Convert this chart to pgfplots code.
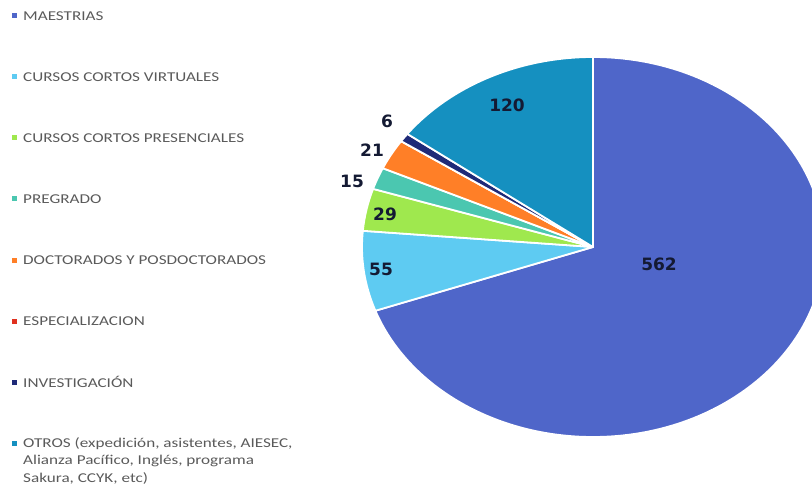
\documentclass[border=0pt]{standalone}
\usepackage{pgfplots}
\pgfplotsset{compat=1.18}
\usepackage{pgfplotstable}
\usepackage{fontspec}
\setmainfont{Carlito}
\newfontfamily\legfont[FakeStretch=1.27]{Carlito}
\newfontfamily\numfont{DejaVu Sans}

\definecolor{slice0}{HTML}{4F66C9}
\definecolor{slice1}{HTML}{5ECBF2}
\definecolor{slice2}{HTML}{9FE84E}
\definecolor{slice3}{HTML}{4BC7B0}
\definecolor{slice4}{HTML}{FF7F27}
\definecolor{slice5}{HTML}{E0301E}
\definecolor{slice6}{HTML}{1F2A78}
\definecolor{slice7}{HTML}{1590C0}
\definecolor{legtext}{HTML}{5A5A5A}
\definecolor{numtext}{HTML}{141A33}

% value, label position (px), legend row y (px)
\pgfplotstableread[col sep=comma]{
value,lx,ly,legy
562,659,264,16
55,381,269,77
29,385,214,138
15,352,181,199
21,372,150,260
0,0,0,321
6,387,121,382
120,507,105,443
}\datatable

\begin{document}
\begin{tikzpicture}
% total and cumulative angles (clockwise from the top)
\def\total{0}
\pgfplotsforeachungrouped \i in {0,...,7}{%
  \pgfplotstablegetelem{\i}{value}\of\datatable
  \pgfmathsetmacro\total{\total+\pgfplotsretval}%
  \xdef\total{\total}%
}
\def\cum{90}
\pgfplotsforeachungrouped \i in {0,...,7}{%
  \pgfplotstablegetelem{\i}{value}\of\datatable
  \edef\v{\pgfplotsretval}%
  \pgfmathtruncatemacro\vi{\v}%
  \expandafter\xdef\csname val\i\endcsname{\ifnum\vi>0 \vi\fi}%
  \pgfmathsetmacro\sweep{\v/\total*360}%
  \expandafter\xdef\csname sa\i\endcsname{\cum}%
  \pgfmathsetmacro\cum{\cum-\sweep}%
  \xdef\cum{\cum}%
  \expandafter\xdef\csname ea\i\endcsname{\cum}%
  \pgfplotstablegetelem{\i}{lx}\of\datatable
  \expandafter\xdef\csname lx\i\endcsname{\pgfplotsretval}%
  \pgfplotstablegetelem{\i}{ly}\of\datatable
  \expandafter\xdef\csname ly\i\endcsname{\pgfplotsretval}%
  \pgfplotstablegetelem{\i}{legy}\of\datatable
  \expandafter\xdef\csname legy\i\endcsname{\pgfplotsretval}%
}
\begin{axis}[
  scale only axis, width=812pt, height=485pt,
  xmin=0, xmax=812, ymin=0, ymax=485, y dir=reverse,
  hide axis, clip=true,
]
\pgfplotsinvokeforeach{0,...,7}{%
  \fill[slice#1, draw=white, line width=1.8pt, line join=round]
    (axis cs:593,247) -- ++(\csname sa#1\endcsname:231pt and 190pt)
    arc[start angle=\csname sa#1\endcsname, end angle=\csname ea#1\endcsname,
        x radius=231pt, y radius=190pt] -- cycle;
}
\pgfplotsinvokeforeach{0,...,7}{%
  \node[text=numtext, font=\numfont\bfseries\fontsize{17}{20}\selectfont, anchor=center, inner sep=0pt]
    at (axis cs:\csname lx#1\endcsname,\csname ly#1\endcsname) {\csname val#1\endcsname};
  \fill[slice#1] (axis cs:12,{\csname legy#1\endcsname-2.5}) rectangle (axis cs:17,{\csname legy#1\endcsname+2.5});
}
\begin{scope}[every node/.style={anchor=west, inner sep=0pt, text=legtext, font=\legfont\fontsize{13.5}{17.5}\selectfont}]
\node at (axis cs:23,16) {MAESTRIAS};
\node at (axis cs:23,77) {CURSOS CORTOS VIRTUALES};
\node at (axis cs:23,138) {CURSOS CORTOS PRESENCIALES};
\node at (axis cs:23,199) {PREGRADO};
\node at (axis cs:23,260) {DOCTORADOS Y POSDOCTORADOS};
\node at (axis cs:23,321) {ESPECIALIZACION};
\node at (axis cs:23,382) {INVESTIGACIÓN};
\node[anchor=north west, align=left] at (axis cs:23,437) {OTROS (expedición, asistentes, AIESEC,\\Alianza Pacífico, Inglés, programa\\Sakura, CCYK, etc)};
\end{scope}
\end{axis}
\end{tikzpicture}
\end{document}
